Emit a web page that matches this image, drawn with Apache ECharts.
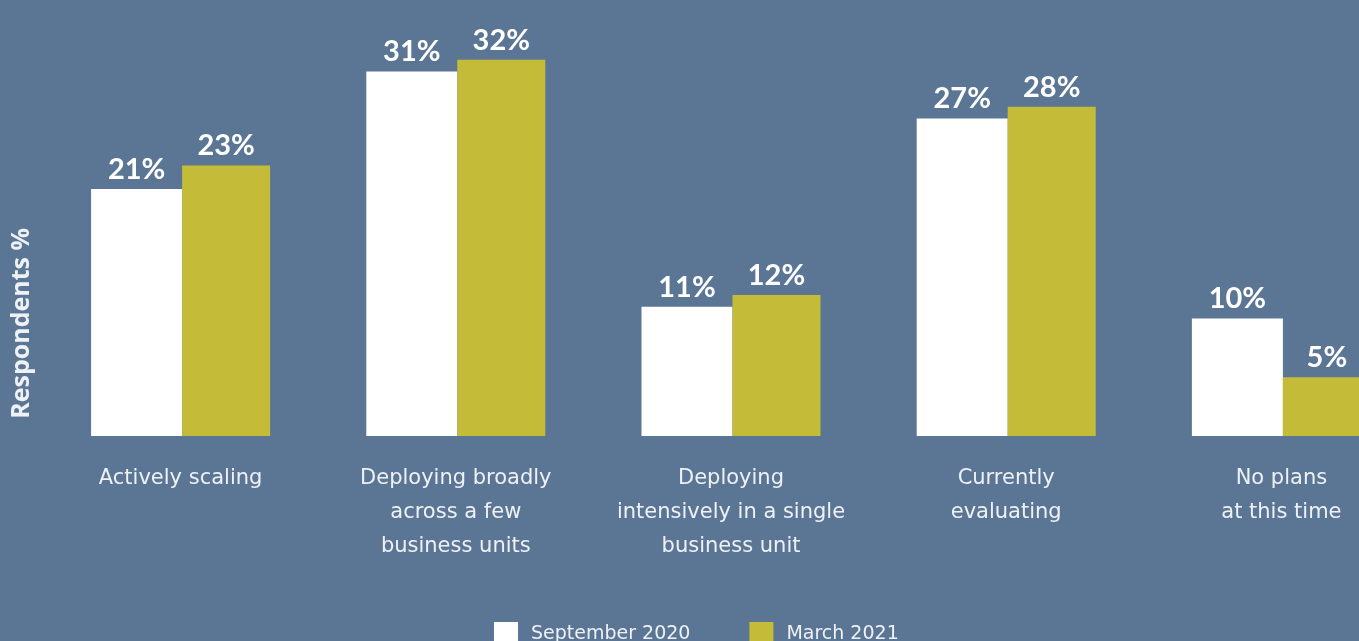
<!DOCTYPE html>
<html>
<head>
<meta charset="utf-8">
<title>Respondents %</title>
<script src="https://cdn.jsdelivr.net/npm/echarts@6/dist/echarts.min.js"></script>
<style>
  html, body { margin: 0; padding: 0; background: #5b7694; }
  #chart { width: 1359px; height: 641px; }
</style>
</head>
<body>
<div id="chart"></div>
<script>
// Adoption stage categories
const categories = [
  'Actively scaling',
  'Deploying broadly\nacross a few\nbusiness units',
  'Deploying\nintensively in a single\nbusiness unit',
  'Currently\nevaluating',
  'No plans\nat this time'
];

// Share of respondents (%) per survey wave
const september2020 = [21, 31, 11, 27, 10];
const march2021 = [23, 32, 12, 28, 5];

const seriesNames = ['September 2020', 'March 2021'];

const TEXT_FONT = '"DejaVu Sans", "Open Sans", sans-serif';
const TITLE_FONT = '"Open Sans", Lato, sans-serif';
const VALUE_FONT = 'Lato, "Open Sans", sans-serif';
const LIGHT = '#eef1f5';

const chart = echarts.init(document.getElementById('chart'));

const valueLabel = {
  show: true,
  position: 'top',
  distance: 5,
  color: '#ffffff',
  fontFamily: VALUE_FONT,
  fontWeight: 'bold',
  fontSize: 29,
  formatter: '{c}%'
};

chart.setOption({
  backgroundColor: '#5b7694',
  animation: false,
  // the last group runs past the right edge, so the grid is allowed outside the view
  grid: { left: 43, top: 1, width: 1376, height: 435, containLabel: false, outerBoundsMode: 'none' },
  legend: {
    data: seriesNames,
    left: 489,
    top: 617,
    itemWidth: 24,
    itemHeight: 24,
    itemGap: 59,
    icon: 'rect',
    textStyle: { color: LIGHT, fontFamily: TEXT_FONT, fontWeight: 'normal', fontSize: 19, padding: [0, 0, 0, 8] }
  },
  xAxis: {
    type: 'category',
    data: categories,
    axisLine: { show: false },
    axisTick: { show: false },
    axisLabel: {
      interval: 0,
      margin: 26,
      color: LIGHT,
      fontFamily: TEXT_FONT,
      fontWeight: 'normal',
      fontSize: 21,
      lineHeight: 34,
      align: 'center'
    }
  },
  yAxis: {
    type: 'value',
    min: 0,
    max: 37,
    show: false,
    splitLine: { show: false }
  },
  graphic: [{
    type: 'text',
    left: 9,
    top: 228,
    rotation: Math.PI / 2,
    style: {
      text: 'Respondents %',
      fill: LIGHT,
      font: 'bold 25px ' + TITLE_FONT
    }
  }],
  series: [
    {
      name: seriesNames[0],
      type: 'bar',
      data: september2020,
      barWidth: 91,
      barGap: '0%',
      itemStyle: { color: '#ffffff' },
      label: valueLabel
    },
    {
      name: seriesNames[1],
      type: 'bar',
      data: march2021,
      barWidth: 88,
      barGap: '0%',
      itemStyle: { color: '#c4bc38' },
      label: valueLabel
    }
  ]
});
</script>
</body>
</html>
